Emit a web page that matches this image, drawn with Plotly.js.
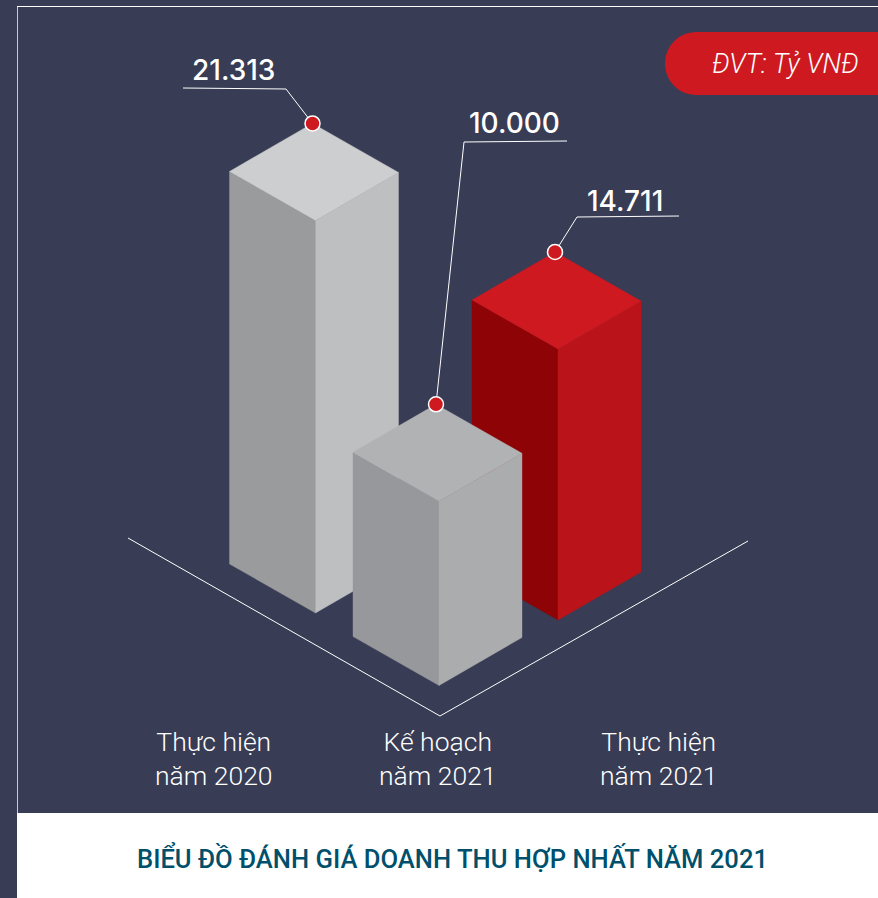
<!DOCTYPE html>
<html><head><meta charset="utf-8">
<script src="https://cdn.plot.ly/plotly-3.0.1.min.js"></script>
<style>html,body{margin:0;padding:0;background:#383C55}</style></head>
<body><div id="chart" style="width:878px;height:898px"></div>
<script>
// ---- data ----
const categories = ['Thực hiện<br>năm 2020', 'Kế hoạch<br>năm 2021', 'Thực hiện<br>năm 2021'];
const values = [21313, 10000, 14711];
const chartTitle = 'BIỂU ĐỒ ĐÁNH GIÁ DOANH THU HỢP NHẤT NĂM 2021';
const unitLabel = 'ĐVT: Tỷ VNĐ';

// ---- projection: x is in layout units, y is in value units ----
const W = 878, H = 898, UNITS_PER_PX = 54.29, ZERO_PX = 700;
const Y = px => (ZERO_PX - px) * UNITS_PER_PX;
const fmt = v => String(v).replace(/\B(?=(\d{3})+$)/g, '.');

const BG = '#383C55';
const palette = [
  {top:'#CDCED0', left:'#9A9B9D', right:'#BEBFC1'},
  {top:'#B1B2B4', left:'#97989C', right:'#ABACAE'},
  {top:'#CE1920', left:'#8E0306', right:'#BA141A'}
];
const base = [[315.5,613],[439,685.5],[558,620]];
const LEFT = [-86,-49], RIGHT = [83,-48];
const drawOrder = [0,2,1];

const traces = [];
const poly = (pts,color) => traces.push({type:'scatter',mode:'lines',x:pts.map(p=>p[0]),y:pts.map(p=>p[1]),
  fill:'toself',fillcolor:color,line:{width:0.4,color:color},hoverinfo:'skip',showlegend:false});
const line = (pts,w,c) => traces.push({type:'scatter',mode:'lines',x:pts.map(p=>p[0]),y:pts.map(p=>Y(p[1])),
  line:{width:w,color:c,simplify:false},hoverinfo:'skip',showlegend:false});

// floor lines
line([[128,538],[440,716],[748,541]],1,'#FFFFFF');

const backTop = [];
drawOrder.forEach(i=>{
  const bx=base[i][0], by=Y(base[i][1]), v=values[i], c=palette[i];
  const lx=LEFT[0], ly=-LEFT[1]*UNITS_PER_PX, rx=RIGHT[0], ry=-RIGHT[1]*UNITS_PER_PX;
  poly([[bx,by],[bx+lx,by+ly],[bx+lx,by+ly+v],[bx,by+v],[bx,by]],c.left);
  poly([[bx,by],[bx+rx,by+ry],[bx+rx,by+ry+v],[bx,by+v],[bx,by]],c.right);
  poly([[bx,by+v],[bx+lx,by+ly+v],[bx+lx+rx,by+ly+ry+v],[bx+rx,by+ry+v],[bx,by+v]],c.top);
  backTop[i]=[bx+lx+rx, by+ly+ry+v];
});

// leaders
const leaders = [
  [[183,88],[286,89]],
  [[567,141],[464,142]],
  [[679,216],[577,217]]
];
leaders.forEach((l,i)=>traces.push({type:'scatter',mode:'lines',
  x:[l[0][0],l[1][0],backTop[i][0]],y:[Y(l[0][1]),Y(l[1][1]),backTop[i][1]],
  line:{width:1,color:'#FFFFFF'},hoverinfo:'skip',showlegend:false}));

// dots on the back corner of each bar
traces.push({type:'scatter',mode:'markers',x:backTop.map(p=>p[0]),y:backTop.map(p=>p[1]),
  marker:{size:15,color:'#CE1920',line:{width:1.5,color:'#FFFFFF'}},hoverinfo:'skip',showlegend:false});

const UI = 'Roboto, sans-serif';
const valueLabelPos = [[233,70],[514,123],[625,201]];
const catLabelPos = [[214,758],[438,758],[659,758]];
const annotations = [];
values.forEach((v,i)=>annotations.push({x:valueLabelPos[i][0],y:Y(valueLabelPos[i][1]),text:fmt(v),showarrow:false,
  xanchor:'center',yanchor:'middle',font:{family:'Inter, sans-serif',size:28,weight:500,color:'#FFFFFF'}}));
categories.forEach((c,i)=>annotations.push({x:catLabelPos[i][0],y:Y(catLabelPos[i][1]),text:c,showarrow:false,
  xanchor:'center',yanchor:'middle',align:'center',font:{family:UI,size:26.5,weight:300,color:'#FFFFFF'}}));
annotations.push({x:785.5,y:Y(64),text:'<i>'+unitLabel+'</i>',showarrow:false,xanchor:'center',yanchor:'middle',
  font:{family:UI,size:27,weight:300,color:'#FFFFFF'}});
annotations.push({x:452,y:Y(857),text:chartTitle,showarrow:false,xanchor:'center',yanchor:'middle',
  font:{family:UI,size:25.6,weight:500,color:'#00506B'}});

const rect=(x0,p0,x1,p1,fill)=>({type:'rect',xref:'x',yref:'y',x0,x1,y0:Y(p0),y1:Y(p1),fillcolor:fill,line:{width:0},layer:'below'});
const pillTop=Y(32), pillBot=Y(95), pillMid=Y(63.5);
const shapes=[
  rect(17,813,878,898,'#FFFFFF'),
  {type:'line',xref:'x',yref:'y',x0:17.5,x1:17.5,y0:Y(6),y1:Y(813),line:{width:1,color:'#C9CAD0'},layer:'below'},
  {type:'line',xref:'x',yref:'y',x0:17,x1:878,y0:Y(6.5),y1:Y(6.5),line:{width:1,color:'#FFFFFF'},layer:'below'},
  {type:'path',xref:'x',yref:'y',layer:'below',fillcolor:'#CE1920',line:{width:0},
   path:`M 878 ${pillTop} L 696 ${pillTop} C 679 ${pillTop} 665 ${Y(46)} 665 ${pillMid} C 665 ${Y(81)} 679 ${pillBot} 696 ${pillBot} L 878 ${pillBot} Z`}
];

Plotly.newPlot('chart',traces,{
  width:W,height:H,margin:{l:0,r:0,t:0,b:0,pad:0},
  paper_bgcolor:BG,plot_bgcolor:BG,showlegend:false,
  xaxis:{range:[0,W],visible:false,fixedrange:true},
  yaxis:{range:[Y(H),Y(0)],visible:false,fixedrange:true},
  shapes,annotations
},{displayModeBar:false,staticPlot:true});
</script></body></html>
